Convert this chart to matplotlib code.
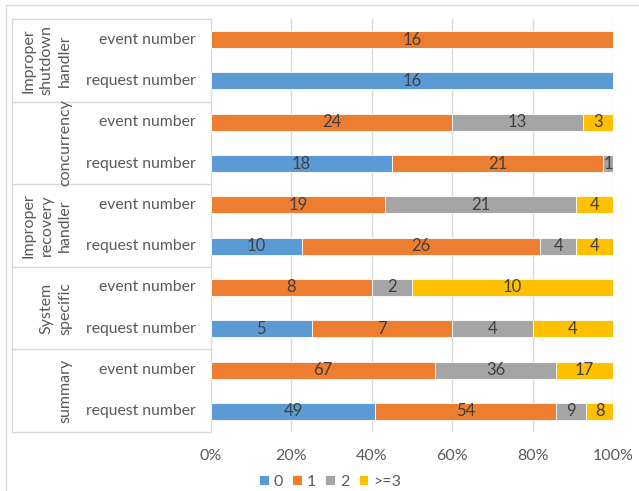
import numpy as np
import matplotlib.pyplot as plt
from matplotlib.patches import Rectangle
from matplotlib.lines import Line2D

# Data (top row first)
groups = ['Improper\nshutdown\nhandler', 'concurrency', 'Improper\nrecovery\nhandler',
          'System\nspecific', 'summary']
row_labels = ['event number', 'request number'] * 5
series_names = ['0', '1', '2', '>=3']
v0 = [0, 16, 0, 18, 0, 10, 0, 5, 0, 49]
v1 = [16, 0, 24, 21, 19, 26, 8, 7, 67, 54]
v2 = [0, 0, 13, 1, 21, 4, 2, 4, 36, 9]
v3 = [0, 0, 3, 0, 4, 4, 10, 4, 17, 8]
colors = ['#5B9BD5', '#ED7D31', '#A5A5A5', '#FFC000']

plt.rcParams['font.family'] = ['Lato', 'DejaVu Sans']
TXT = '#595959'

W, H = 639, 491
fig = plt.figure(figsize=(W / 100, H / 100), dpi=100)
L, R, T, B = 211, 613, 19, 432
ax = fig.add_axes([L / W, 1 - B / H, (R - L) / W, (B - T) / H])

vals = np.array([v0, v1, v2, v3], dtype=float)
totals = vals.sum(axis=0)
y = np.arange(len(row_labels))
left = np.zeros(len(row_labels))
for i in range(4):
    frac = vals[i] / totals
    ax.barh(y, frac, left=left, height=0.41, color=colors[i], edgecolor='white',
            linewidth=0.6, label=series_names[i], zorder=3)
    for j in range(len(y)):
        if vals[i][j] > 0:
            ax.text(left[j] + frac[j] / 2, y[j], '%d' % vals[i][j], ha='center', va='center',
                    fontsize=12, color='#404040', zorder=4)
    left += frac

ax.set_xlim(0, 1)
ax.set_ylim(len(y) - 0.5, -0.5)
ax.set_xticks(np.linspace(0, 1, 6))
ax.set_xticklabels(['%d%%' % p for p in range(0, 101, 20)])
ax.set_yticks([])
ax.tick_params(axis='x', length=0, pad=12, labelsize=11.5, labelcolor=TXT)
ax.grid(axis='x', color='#D9D9D9', linewidth=1, zorder=0)
for s in ['top', 'bottom', 'right']:
    ax.spines[s].set_visible(False)
ax.spines['left'].set_color('#D9D9D9')

# category table on the left
tr = ax.get_yaxis_transform()
x_left = (12 - L) / (R - L)
for b in [-0.5, 1.5, 3.5, 5.5, 7.5, 9.5]:
    ax.add_line(Line2D([x_left, 0], [b, b], transform=tr, color='#D9D9D9', lw=1, clip_on=False))
ax.add_line(Line2D([x_left, x_left], [-0.5, 9.5], transform=tr, color='#D9D9D9', lw=1, clip_on=False))

x_row = (196 - L) / (R - L)
for j, lab in enumerate(row_labels):
    ax.text(x_row, y[j], lab, transform=tr, ha='right', va='center', fontsize=11.3, color=TXT)

x_grp = (72 - L) / (R - L)
for g, name in enumerate(groups):
    ax.text(x_grp, 2 * g + 0.5, name, transform=tr, ha='right', va='center', rotation=90,
            multialignment='center', fontsize=11.5, color=TXT, linespacing=1.38)

# outer chart border
fig.add_artist(Rectangle((6 / W, -0.1), 1.2, 1 - 5 / H + 0.1, transform=fig.transFigure,
                         fill=False, edgecolor='#D9D9D9', lw=1))

ax.legend(loc='center', bbox_to_anchor=(330 / W, 1 - 482 / H), bbox_transform=fig.transFigure,
          ncol=4, frameon=False, fontsize=11.5, labelcolor=TXT, handlelength=0.6, handleheight=0.6,
          handletextpad=0.3, columnspacing=0.6)

fig.savefig('out.png', dpi=100)
